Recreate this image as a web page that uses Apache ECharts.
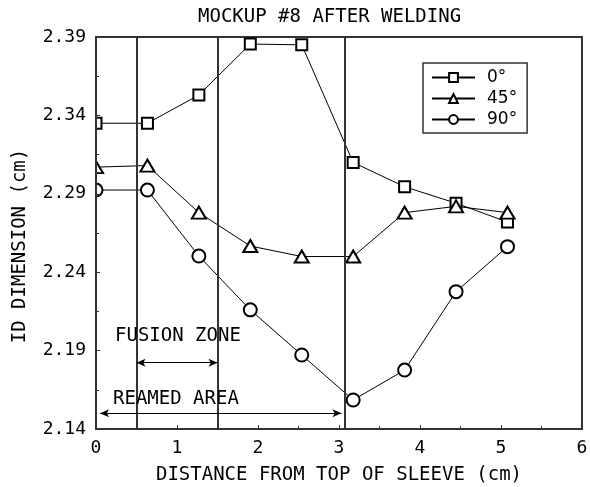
<!DOCTYPE html>
<html><head><meta charset="utf-8">
<script src="https://cdn.jsdelivr.net/npm/echarts@6/dist/echarts.min.js"></script>
<style>html,body{margin:0;padding:0;background:#fff}#c{width:590px;height:487px}</style>
</head><body><div id="c"></div>
<script>
// ---- data ----
const xCm   = [0, 0.635, 1.27, 1.905, 2.54, 3.175, 3.81, 4.445, 5.08];
const deg0  = [2.335, 2.335, 2.353, 2.3855, 2.385, 2.310, 2.2945, 2.284, 2.272];
const deg45 = [2.307, 2.308, 2.278, 2.2567, 2.250, 2.250, 2.278, 2.282, 2.278];
const deg90 = [2.2924, 2.2924, 2.2503, 2.216, 2.1872, 2.1585, 2.1776, 2.2276, 2.2563];
const seriesNames = ['0°', '45°', '90°'];
const zoneLines = [0.5, 1.5, 3.07];
const fusionArrow = {x: [0.5, 1.5], y: 2.1823};
const reamedArrow = {x: [0.05, 3.03], y: 2.150};
const fusionLabel = {x: 0.235, y: 2.199, text: 'FUSION ZONE'};
const reamedLabel = {x: 0.21, y: 2.159, text: 'REAMED AREA'};
const yBase = 2.14, yTop = 2.39, yStep = 0.05;

const mono = '"DejaVu Sans Mono", monospace';
const toY = v => v - yBase;
const pts = arr => xCm.map((x, i) => [x, toY(arr[i])]);

const chart = echarts.init(document.getElementById('c'), null, {renderer: 'canvas'});
const lineCol = '#000';
const frameCol = '#333';

const mkSeries = (name, arr, symbol, size) => ({
  name, type: 'line', data: pts(arr), symbol, symbolSize: size,
  lineStyle: {color: lineCol, width: 1}, itemStyle: {color: lineCol, borderWidth: 1},
  showAllSymbol: true, clip: false, z: 3, animation: false
});

const s0 = mkSeries(seriesNames[0], deg0, 'emptyRect', 11);
const s45 = mkSeries(seriesNames[1], deg45, 'emptyTriangle', [14, 12]);
const s90 = mkSeries(seriesNames[2], deg90, 'emptyCircle', 13);

s0.markLine = {
  silent: true, symbol: 'none', animation: false,
  lineStyle: {color: frameCol, width: 2, type: 'solid'},
  label: {show: false},
  data: zoneLines.map(x => ({xAxis: x}))
};
s45.markLine = {
  silent: true, animation: false, symbol: ['arrow', 'arrow'], symbolSize: [6, 9],
  lineStyle: {color: '#000', width: 1, type: 'solid'}, label: {show: false},
  data: [
    [{coord: [fusionArrow.x[0], toY(fusionArrow.y)]}, {coord: [fusionArrow.x[1], toY(fusionArrow.y)]}],
    [{coord: [reamedArrow.x[0], toY(reamedArrow.y)]}, {coord: [reamedArrow.x[1], toY(reamedArrow.y)]}]
  ]
};
s90.markPoint = {
  silent: true, animation: false, symbol: 'circle', symbolSize: 0,
  label: {show: true, position: 'right', distance: 0, color: '#000', fontFamily: mono, fontSize: 19},
  data: [fusionLabel, reamedLabel].map(l => ({coord: [l.x, toY(l.y)], value: l.text,
    label: {formatter: l.text}}))
};

const option = {
  backgroundColor: '#fff',
  animation: false,
  title: {
    text: 'MOCKUP #8 AFTER WELDING', left: 193, top: 3,
    textStyle: {fontFamily: mono, fontSize: 19, fontWeight: 'normal', color: '#000'}
  },
  legend: {
    orient: 'vertical', left: 423, top: 63,
    backgroundColor: '#fff', borderColor: '#333', borderWidth: 1.5,
    padding: [6, 10, 5, 8], itemGap: 4, itemWidth: 43, itemHeight: 11,
    textStyle: {fontFamily: '"DejaVu Sans", sans-serif', fontSize: 17, color: '#000', padding: [0, 0, 0, 7]},
    data: seriesNames
  },
  grid: {left: 96, right: 8, top: 37, bottom: 58, show: true, borderColor: frameCol, borderWidth: 2,
    backgroundColor: 'transparent', containLabel: false, outerBoundsMode: 'none'},
  xAxis: {
    type: 'value', min: 0, max: 6, interval: 1,
    name: 'DISTANCE FROM TOP OF SLEEVE (cm)', nameLocation: 'middle', nameGap: 37,
    nameTextStyle: {fontFamily: mono, fontSize: 19, color: '#000'},
    axisLine: {lineStyle: {color: frameCol, width: 2}},
    axisTick: {inside: true, length: 4, lineStyle: {color: frameCol, width: 1}},
    minorTick: {show: true, splitNumber: 2, length: 3, lineStyle: {color: frameCol, width: 1}},
    splitLine: {show: false},
    axisLabel: {fontFamily: mono, fontSize: 18, color: '#000', margin: 10}
  },
  yAxis: {
    type: 'value', min: 0, max: yTop - yBase, interval: yStep, z: 200,
    axisLine: {show: true, lineStyle: {color: frameCol, width: 2}},
    axisTick: {show: true, inside: true, length: 4, lineStyle: {color: frameCol, width: 1}},
    minorTick: {show: true, splitNumber: 2, length: 3, lineStyle: {color: frameCol, width: 1}},
    splitLine: {show: false},
    axisLabel: {fontFamily: mono, fontSize: 18, color: '#000', margin: 10,
      formatter: v => (yBase + v).toFixed(2)}
  },
  graphic: [
    // white mask left of the frame: hides the outer half of the markers sitting on x = 0
    {type: 'rect', z: 100, x: 86, y: 60, shape: {x: 0, y: 0, width: 9, height: 160},
      style: {fill: '#fff'}, silent: true},
    {type: 'text', z: 100, x: 20, y: 246, rotation: Math.PI / 2,
      style: {text: 'ID DIMENSION (cm)', font: '19px "DejaVu Sans Mono", monospace', fill: '#000',
        textAlign: 'center', textVerticalAlign: 'middle'}}
  ],
  series: [s0, s45, s90]
};
chart.setOption(option);
</script></body></html>
